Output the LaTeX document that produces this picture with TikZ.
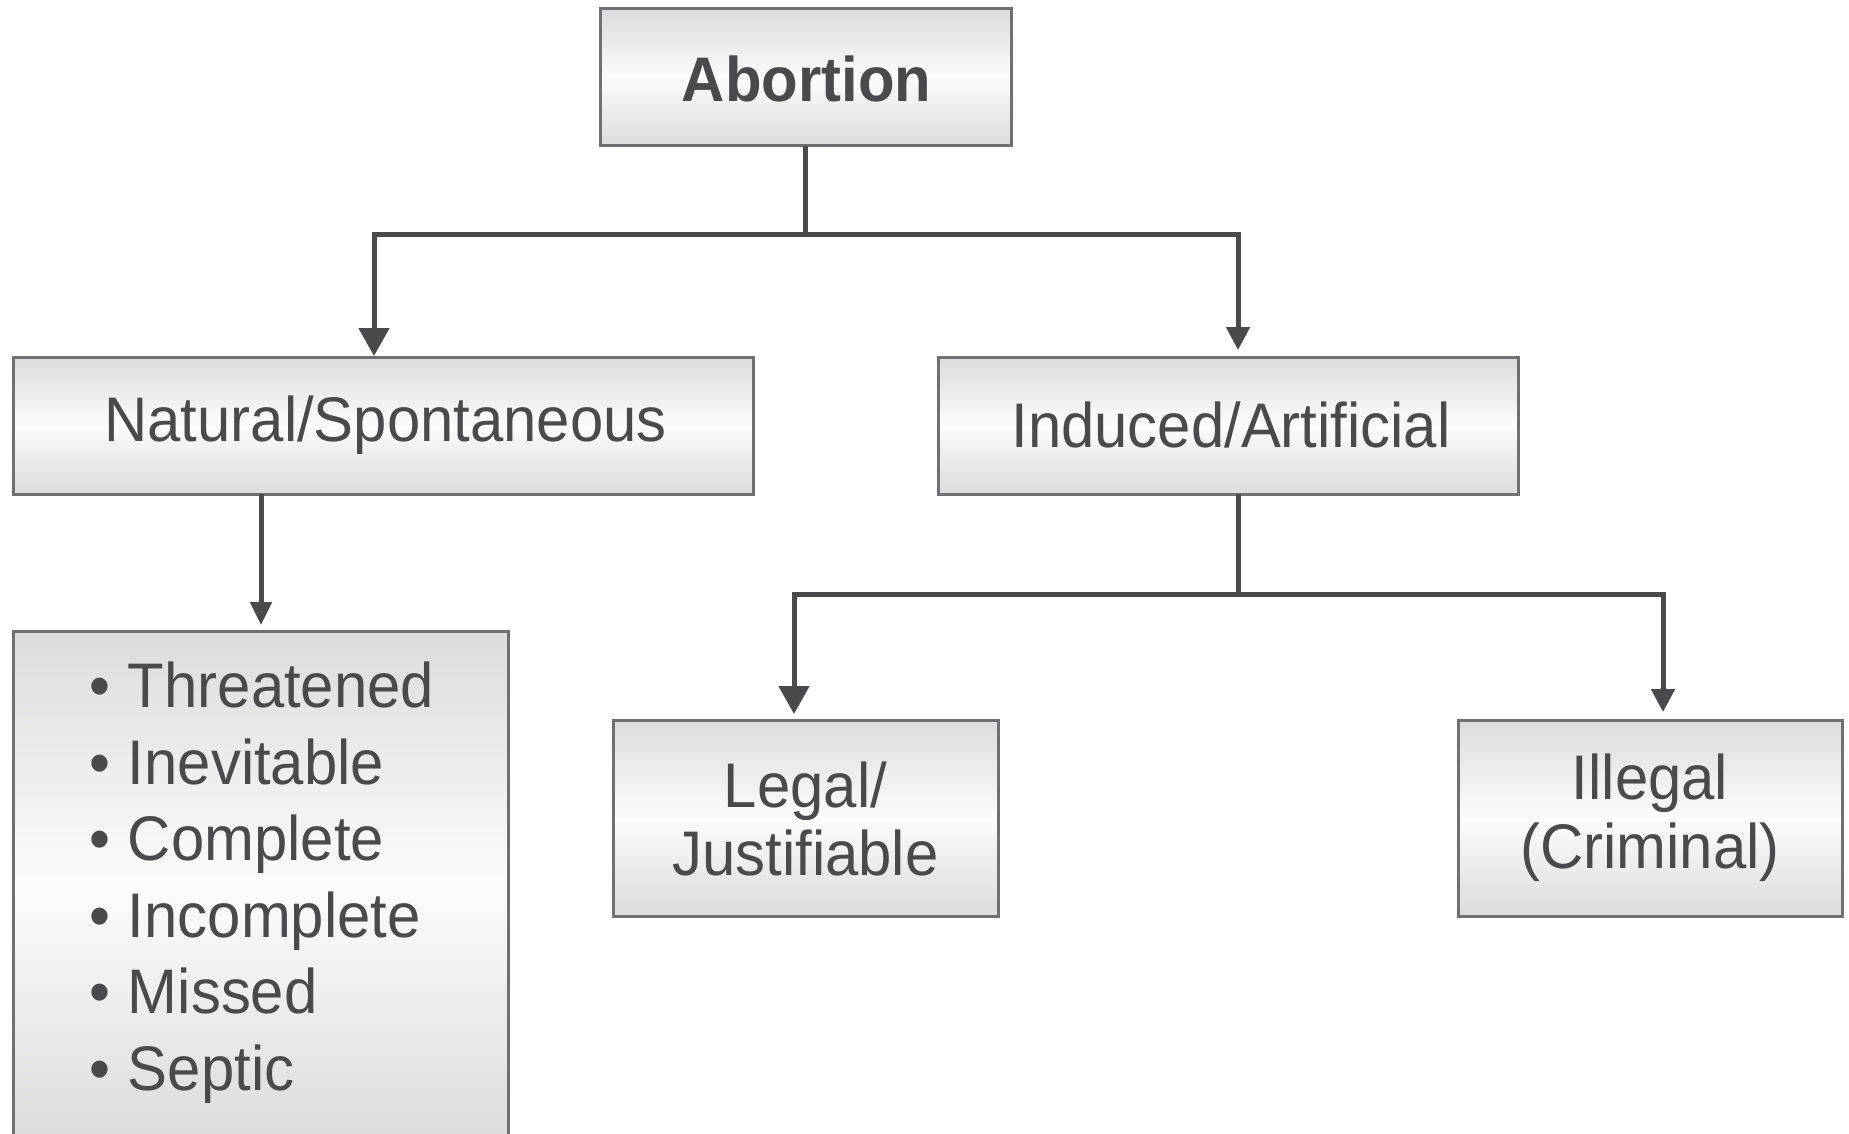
\documentclass[tikz,border=0pt]{standalone}
\usepackage{fontspec}
\setmainfont{Liberation Sans}[FakeStretch=0.95]
\usetikzlibrary{arrows.meta}
\definecolor{ink}{HTML}{4A4A4C}
\definecolor{rim}{HTML}{707072}
\definecolor{shadegray}{HTML}{DCDCDE}
\definecolor{shadewhite}{HTML}{FCFCFC}
\tikzset{
  box/.style={rectangle, draw=rim, line width=3pt, inner sep=0pt, outer sep=0pt,
    top color=shadegray, bottom color=shadegray, middle color=shadewhite},
  txt/.style={text=ink, inner sep=0pt, outer sep=0pt, font=\fontsize{63}{68}\selectfont},
  conn/.style={draw=ink, line width=5pt},
  bigtip/.style={conn, -{Triangle[width=30pt,length=28pt]}},
  smalltip/.style={conn, -{Triangle[width=23pt,length=23pt]}},
}
\begin{document}
\begin{tikzpicture}[x=1pt,y=-1pt]
\useasboundingbox (0,0) rectangle (1849,1134);
\fill[white] (0,0) rectangle (1849,1134);

% boxes
\node[box, minimum width=411pt, minimum height=137pt] (abort) at (805.5,77.5) {};
\node[box, minimum width=740pt, minimum height=137pt] (nat) at (383,425.5) {};
\node[box, minimum width=580pt, minimum height=137pt] (ind) at (1228.5,425.5) {};
\node[box, minimum width=495pt, minimum height=508pt] (list) at (260.5,885) {};
\node[box, minimum width=385pt, minimum height=196pt] (legal) at (805.5,818) {};
\node[box, minimum width=384pt, minimum height=196pt] (illegal) at (1650,818) {};

% texts
\node[txt, anchor=base, font=\fontsize{63}{68}\selectfont\bfseries] (abortT) at (806.5,101.7) {Abortion};
\node[txt, anchor=base] (natT) at (385.6,441.7) {Natural/Spontaneous};
\node[txt, anchor=base] (indT) at (1231,447) {Induced/Artificial};
\node[txt, anchor=base] (legalT1) at (805.5,807) {Legal/};
\node[txt, anchor=base] (legalT2) at (805.5,875) {Justifiable};
\node[txt, anchor=base] (illT1) at (1650,799) {Illegal};
\node[txt, anchor=base] (illT2) at (1650,868) {(Criminal)};
\foreach \t [count=\i] in {Threatened,Inevitable,Complete,Incomplete,Missed,Septic}{
  \node[txt, anchor=base west] (item\i) at (128,{707.5+76.6*(\i-1)}) {\llap{•\hspace{18pt}}\t};
}

% connector points
\coordinate (j1) at (805.5,234);
\coordinate (natIn) at (374,356);
\coordinate (indIn) at (1238,350);
\coordinate (listIn) at (261,625);
\coordinate (j2) at (1238,594);
\coordinate (legIn) at (794,714);
\coordinate (illIn) at (1663,712);

% connectors
\draw[conn] (abort.south) -- (j1);
\draw[bigtip] (j1) -| (natIn);
\draw[smalltip] (j1) -| (indIn);
\draw[conn, -{Triangle[width=21pt,length=23pt]}] (nat.south -| listIn) -- (listIn);
\draw[conn] (ind.south -| j2) -- (j2);
\draw[bigtip] (j2) -| (legIn);
\draw[smalltip] (j2) -| (illIn);
\end{tikzpicture}
\end{document}
